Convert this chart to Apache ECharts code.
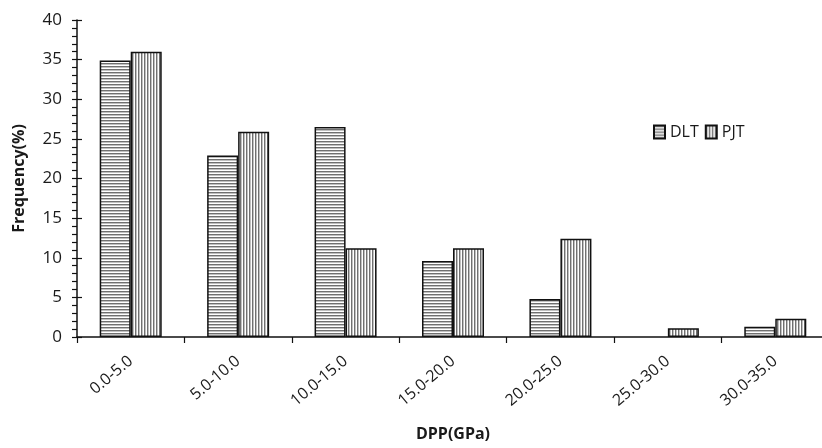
<!DOCTYPE html>
<html>
<head>
<meta charset="utf-8">
<script src="https://cdn.jsdelivr.net/npm/echarts@6/dist/echarts.min.js"></script>
<style>
html,body{margin:0;padding:0;background:#fff;overflow:hidden;}
#chart{width:822px;height:448px;}
</style>
</head>
<body>
<div id="chart"></div>
<script>
const categories = ['0.0-5.0','5.0-10.0','10.0-15.0','15.0-20.0','20.0-25.0','25.0-30.0','30.0-35.0'];
const dltValues = [34.9, 22.9, 26.5, 9.6, 4.8, 0, 1.3];
const pjtValues = [36.0, 25.9, 11.2, 11.2, 12.4, 1.1, 2.3];
const yTicks = {min: 0, max: 40, interval: 5};

function makePattern(horizontal) {
  const c = document.createElement('canvas');
  const n = 3;
  c.width = horizontal ? 4 : n;
  c.height = horizontal ? n : 4;
  const ctx = c.getContext('2d');
  ctx.fillStyle = '#fff';
  ctx.fillRect(0, 0, c.width, c.height);
  if (horizontal) {
    ctx.fillStyle = '#707070'; ctx.fillRect(0, 0, 4, 1);
    ctx.fillStyle = '#c0c0c0'; ctx.fillRect(0, 1, 4, 1);
  } else {
    ctx.fillStyle = '#707070'; ctx.fillRect(0, 0, 1, 4);
    ctx.fillStyle = '#c0c0c0'; ctx.fillRect(1, 0, 1, 4);
  }
  return {image: c, repeat: 'repeat'};
}
function toData(arr) {
  return arr.map(v => v === 0 ? {value: v, itemStyle: {borderWidth: 0}} : v);
}

const font = '"Open Sans", "Noto Sans", sans-serif';
const chart = echarts.init(document.getElementById('chart'));
chart.setOption({
  animation: false,
  textStyle: {fontFamily: font, color: '#1a1a1a'},
  grid: {left: 77, top: 20, width: 752, height: 317, containLabel: false, outerBoundsMode: 'none'},
  legend: {
    left: 648, top: 119,
    icon: 'rect',
    itemWidth: 11, itemHeight: 13, itemGap: 6,
    textStyle: {fontSize: 16, color: '#1a1a1a', fontFamily: font},
    data: ['DLT', 'PJT']
  },
  xAxis: {
    type: 'category',
    data: categories,
    name: 'DPP(GPa)',
    nameLocation: 'middle',
    nameGap: 89,
    nameTextStyle: {fontSize: 16, fontWeight: 'bold', color: '#1a1a1a'},
    axisLine: {lineStyle: {color: '#111', width: 1.5}},
    axisTick: {show: true, interval: 0, length: 6, lineStyle: {color: '#111', width: 1.2}},
    axisLabel: {rotate: 40, fontSize: 16, margin: 22, color: '#1a1a1a', interval: 0}
  },
  yAxis: [{
    type: 'value',
    min: yTicks.min, max: yTicks.max, interval: yTicks.interval,
    name: 'Frequency(%)',
    nameLocation: 'middle',
    nameGap: 50,
    nameTextStyle: {fontSize: 16, fontWeight: 'bold', color: '#1a1a1a'},
    axisLine: {show: true, lineStyle: {color: '#111', width: 1.5}},
    axisTick: {show: true, length: 5, lineStyle: {color: '#111', width: 1.2}},
    minorTick: {show: true, splitNumber: 5, length: 5, lineStyle: {color: '#111', width: 1.2}},
    splitLine: {show: false},
    axisLabel: {fontSize: 17, margin: 15, color: '#1a1a1a'}
  }, {
    type: 'value',
    position: 'left',
    min: yTicks.min, max: yTicks.max, interval: yTicks.interval,
    axisLine: {show: false},
    axisTick: {show: true, inside: true, length: 5, lineStyle: {color: '#111', width: 1.2}},
    splitLine: {show: false},
    axisLabel: {show: false}
  }],
  series: [{
    name: 'DLT',
    type: 'bar',
    data: toData(dltValues),
    barWidth: 31,
    barGap: '0%',
    itemStyle: {color: makePattern(true), borderColor: '#111', borderWidth: 1.5}
  }, {
    name: 'PJT',
    type: 'bar',
    data: toData(pjtValues),
    barWidth: 31,
    barGap: '0%',
    itemStyle: {color: makePattern(false), borderColor: '#111', borderWidth: 1.5}
  }]
});
</script>
</body>
</html>
